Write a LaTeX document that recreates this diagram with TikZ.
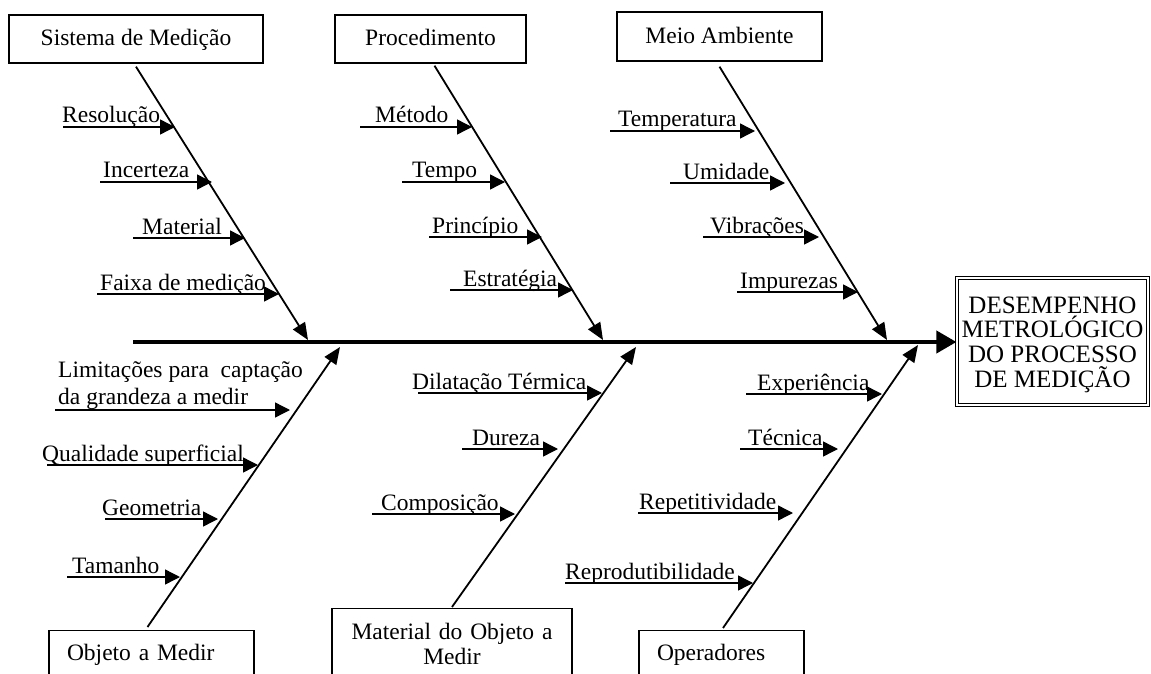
\documentclass[tikz,border=0pt]{standalone}
\usepackage{fontspec}
\setmainfont{Liberation Serif}
\usetikzlibrary{arrows.meta}

\begin{document}
\begin{tikzpicture}[x=1pt,y=-1pt,
  txt/.style={font=\fontsize{23.5}{27}\selectfont},
  lbl/.style={txt, inner sep=0pt, anchor=base west},
  causebox/.style={draw, line width=1.4pt, inner sep=0pt, txt, text height=15pt, text depth=1pt},
  lowbox/.style={draw, line width=1.4pt, txt, anchor=north, align=left, inner xsep=18pt, inner ysep=15pt, text height=15pt, text depth=5pt},
  sub/.style={line width=1.4pt, -{Triangle[length=15pt,width=15pt]}},
  branch/.style={line width=1.8pt, -{Triangle[length=17pt,width=14pt]}},
  spine/.style={line width=4pt, -{Triangle[length=20pt,width=22pt]}},
]
\path[use as bounding box] (0,0) rectangle (1151,674);
\fill[white] (0,0) rectangle (1151,674);
\clip (0,0) rectangle (1151,674);

% cause categories, top row
\node[causebox, minimum width=254pt, minimum height=48pt] (sm) at (136,39) {Sistema de Medição};
\node[causebox, minimum width=191pt, minimum height=48pt] (pr) at (430.5,39) {Procedimento};
\node[causebox, minimum width=205pt, minimum height=49pt] (ma) at (719.5,36.5) {Meio Ambiente};

% cause categories, bottom row (running off the lower edge)
\node[lowbox, text width=169pt] (om) at (151.5,630) {Objeto a Medir};
\node[draw, line width=1.4pt, anchor=north, align=center, text width=240pt, inner xsep=0pt, inner ysep=14pt,
      font=\fontsize{23.5}{25}\selectfont] (mo) at (452,608) {Material do Objeto a\\Medir\\[4pt]};
\node[lowbox, text width=129pt] (op) at (721.5,630) {Operadores};

% effect
\node[draw, double, double distance=2pt, line width=1.2pt, minimum width=191pt, minimum height=127pt,
      align=center, inner sep=0pt,
      font=\fontsize{25}{24.7}\selectfont] (ef) at (1052.5,341.5)
      {\rule{0pt}{22.5pt}DESEMPENHO\\METROLÓGICO\\DO PROCESSO\\DE MEDIÇÃO};

% spine
\coordinate (sp0) at (133,342);
\draw[spine] (sp0) -- (sp0 -| ef.west);

% branch tips on the spine
\coordinate (t1) at (308,340);
\coordinate (t2) at (603,340);
\coordinate (t3) at (887,340);
\coordinate (b1) at (340,347);
\coordinate (b2) at (636,347);
\coordinate (b3) at (918,345);

\draw[branch] ([yshift=-3pt]sm.south) -- (t1);
\draw[branch] ([shift={(4pt,-2pt)}]pr.south) -- (t2);
\draw[branch] ([yshift=-5pt]ma.south) -- (t3);
\draw[branch] ([shift={(-4pt,3pt)}]om.north) -- (b1);
\draw[branch] ([yshift=1pt]mo.north) -- (b2);
\draw[branch] ([shift={(1.5pt,2pt)}]op.north) -- (b3);

% sub-causes: name / start x / tip x / y / text x / text
\foreach \n/\xs/\xe/\yy/\xt/\t in {
  sa/63/175/127/62/Resolução,
  sb/100/212/182/103/Incerteza,
  sc/133/245/238/142/Material,
  sd/97/279/294/100/Faixa de medição,
  pa/360/472/127/375/Método,
  pb/402/505/182/412/Tempo,
  pc/429/542/237/432/Princípio,
  pd/450/573/290/463/Estratégia,
  ma/610/755/131/618/Temperatura,
  mb/670/785/183/683/Umidade,
  mc/703/819/237/710/Vibrações,
  md/737/858/292/740/Impurezas,
  ob/47/258/465/42/Qualidade superficial,
  oc/105/218/519/102/Geometria,
  od/67/180/577/72/Tamanho,
  la/418/602/393/412/Dilatação Térmica,
  lb/462/558/449/472/Dureza,
  lc/372/515/514/381/Composição,
  qa/746/882/394/757/Experiência,
  qb/740/838/449/748/Técnica,
  qc/638/793/513/639/Repetitividade,
  qd/565/753/583/565/Reprodutibilidade}
{
  \coordinate (\n-s) at (\xs,\yy);
  \coordinate (\n-e) at (\xe,\yy);
  \draw[sub] (\n-s) -- (\n-e);
  \node[lbl] (\n-l) at (\xt,\yy-4) {\t};
}

% two-line sub-cause
\coordinate (oa-s) at (55,410);
\coordinate (oa-e) at (290,410);
\draw[sub] (oa-s) -- (oa-e);
\node[txt, anchor=north west, align=left, inner sep=0pt] (oa-l) at (58,361)
  {Limitações para~ captação\\da grandeza a medir};
\end{tikzpicture}
\end{document}
